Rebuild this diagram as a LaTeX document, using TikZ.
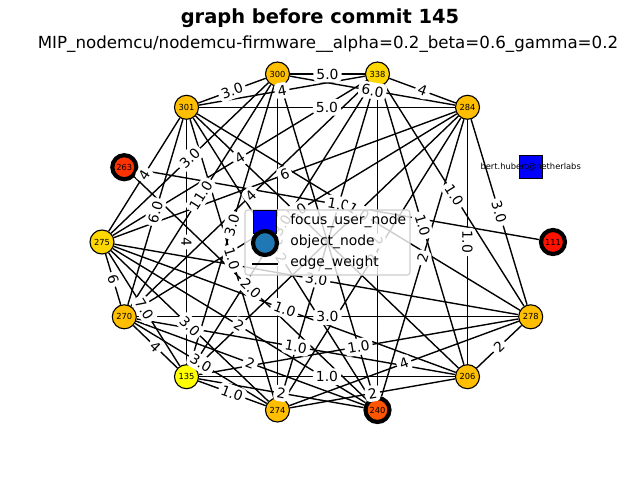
\documentclass[tikz,border=0pt]{standalone}
\usepackage{fontspec}
\setmainfont{DejaVu Sans}
\usepackage{tikz}
\usetikzlibrary{positioning}
\pgfdeclarelayer{background}
\pgfsetlayers{background,main}
\newcommand{\pxUnit}{0.72pt}
\newcommand{\nodeDiam}{17.3pt}
\definecolor{amber}{HTML}{FFBF00}
\definecolor{goldy}{HTML}{FFD700}
\definecolor{yel}{HTML}{FFFF00}
\definecolor{redA}{HTML}{FF3300}
\definecolor{redB}{HTML}{FF5500}
\definecolor{redC}{HTML}{FF1100}
\definecolor{legendBlue}{HTML}{1F77B4}
\newcommand{\wEdge}[3]{%
	\begin{pgfonlayer}{background}
		\draw[wline] (#1) -- (#2);
	\end{pgfonlayer}
	\path (#1) -- node[elab] {#3} (#2);
}
\newcommand{\bareEdge}[2]{%
	\begin{pgfonlayer}{background}
		\draw[wline] (#1) -- (#2);
	\end{pgfonlayer}
}

\begin{document}
\begin{tikzpicture}[x=\pxUnit, y=-\pxUnit,
	obj/.style={circle, draw=black, line width=0.8pt, minimum size=\nodeDiam, inner sep=0pt, font=\fontsize{6}{7}\selectfont},
	hot/.style={obj, line width=3pt},
	focusbox/.style={rectangle, draw=black, line width=0.8pt, fill=blue, minimum size=16.5pt, inner sep=0pt},
	wline/.style={line width=1pt},
	elab/.style={midway, sloped, fill=white, inner sep=2.2pt, rounded corners=3pt, font=\fontsize{10}{12}\selectfont},
	legtext/.style={anchor=west, inner sep=0pt, font=\fontsize{10}{12}\selectfont}]
	\useasboundingbox (0,0) rectangle (640,480);
		% titles
		\node[font=\bfseries\fontsize{14}{17}\selectfont] (title) at (320,18) {graph before commit 145};
		\node[font=\fontsize{12}{14}\selectfont] (subtitle) at (328,44) {MIP\_nodemcu/nodemcu-firmware\_\_alpha=0.2\_beta=0.6\_gamma=0.2};
		% nodes (circular layout)
		\node[obj, fill=amber] (n300) at (277.5,74) {300};
		\node[obj, fill=goldy] (n338) at (377.5,74) {338};
		\node[obj, fill=amber] (n301) at (186.5,107.3) {301};
		\node[obj, fill=amber] (n284) at (467.5,107.3) {284};
		\node[hot, fill=redA] (n263) at (124.3,167.2) {263};
		\node[focusbox] (bert) at (530.7,167.2) {};
		\node[obj, fill=goldy] (n275) at (102,242) {275};
		\node[hot, fill=redC] (n111) at (553,242) {111};
		\node[obj, fill=amber] (n270) at (124.3,316.8) {270};
		\node[obj, fill=amber] (n278) at (530.7,316.8) {278};
		\node[obj, fill=yel] (n135) at (186.5,376.7) {135};
		\node[obj, fill=amber] (n206) at (467.5,376.7) {206};
		\node[obj, fill=amber] (n274) at (277.5,410) {274};
		\node[hot, fill=redB] (n240) at (377.5,410) {240};
		\node[font=\fontsize{6}{7}\selectfont, inner sep=0pt] (bertLabel) at (bert) {bert.hubert@netherlabs};
		% weighted edges
		\wEdge{n300}{n338}{5.0}
		\wEdge{n301}{n300}{3.0}
		\wEdge{n338}{n301}{4}
		\wEdge{n301}{n284}{5.0}
		\wEdge{n300}{n284}{6.0}
		\wEdge{n338}{n284}{4}
		\wEdge{n300}{n275}{3.0}
		\wEdge{n338}{n275}{4}
		\wEdge{n301}{n275}{4}
		\wEdge{n284}{n275}{6}
		\wEdge{n300}{n270}{11.0}
		\wEdge{n301}{n270}{6.0}
		\wEdge{n338}{n270}{4}
		\wEdge{n300}{n135}{3.0}
		\wEdge{n301}{n135}{4}
		\wEdge{n301}{n274}{1.0}
		\wEdge{n275}{n270}{6}
		\wEdge{n275}{n135}{7.0}
		\wEdge{n270}{n135}{4}
		\wEdge{n275}{n274}{3.0}
		\wEdge{n270}{n274}{3.0}
		\wEdge{n135}{n274}{1.0}
		\wEdge{n275}{n240}{2}
		\wEdge{n270}{n240}{2}
		\wEdge{n135}{n240}{2}
		\wEdge{n135}{n206}{1.0}
		\wEdge{n270}{n206}{1.0}
		\wEdge{n275}{n206}{1.0}
		\wEdge{n263}{n240}{2.0}
		\wEdge{n270}{n278}{3.0}
		\wEdge{n275}{n278}{3.0}
		\wEdge{n135}{n278}{1.0}
		\wEdge{n274}{n278}{4}
		\wEdge{n274}{n206}{2}
		\wEdge{n206}{n278}{2}
		\wEdge{n338}{n278}{1.0}
		\wEdge{n284}{n278}{3.0}
		\wEdge{n338}{n206}{1.0}
		\wEdge{n284}{n206}{1.0}
		\wEdge{n284}{n240}{2}
		\wEdge{n263}{n111}{1.0}
		\wEdge{n284}{n270}{1.0}
		\wEdge{n301}{n278}{1.0}
		\wEdge{n338}{n240}{2}
		\wEdge{n300}{n274}{2}
		\wEdge{n284}{n274}{2}
		\wEdge{n301}{n240}{2}
		\wEdge{n338}{n135}{3.0}
		% edges whose weights sit under the legend
		\bareEdge{n300}{n240}
		\bareEdge{n284}{n135}
		\bareEdge{n301}{n206}
		\bareEdge{n338}{n274}
		% legend
		\draw[draw=black!20, fill=white, fill opacity=0.8, rounded corners=2pt, line width=0.8pt] (245,210) rectangle (410,275);
		\node[focusbox] (legFocus) at (265,222) {};
		\node[hot, fill=legendBlue] (legObject) at (265,243) {};
		\coordinate (legLineA) at (252,264);
		\coordinate (legLineB) at (278,264);
		\draw[wline] (legLineA) -- (legLineB);
		\node[legtext] (legFocusText) at (290,221) {focus\_user\_node};
		\node[legtext] (legObjectText) at (290,242) {object\_node};
		\node[legtext] (legEdgeText) at (290,263) {edge\_weight};
\end{tikzpicture}
\end{document}
